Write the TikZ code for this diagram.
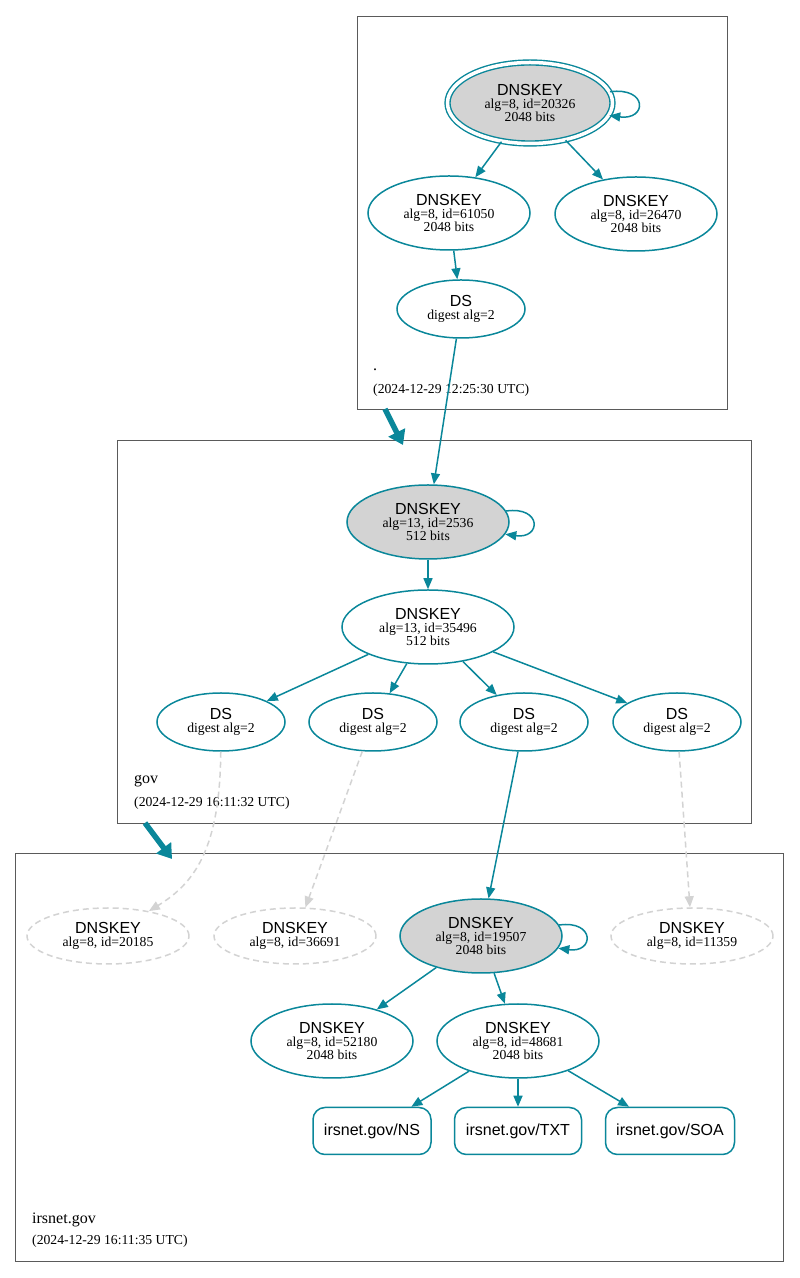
\documentclass[tikz,border=0pt]{standalone}
\usepackage{fontspec}
\setmainfont{Liberation Serif}
\setsansfont{Liberation Sans}
\usetikzlibrary{shapes.geometric,arrows.meta}
\definecolor{dvteal}{HTML}{0A879A}
\definecolor{kgray}{HTML}{D3D3D3}
\definecolor{cgray}{HTML}{5A5A5A}
\newcommand\sfbig[1]{{\sffamily\fontsize{16}{16}\selectfont #1}}
\newcommand\klbl[3]{\sfbig{DNSKEY}\\[0.5pt]alg=#1, id=#2\\#3}
\newcommand\glbl[2]{\sfbig{DNSKEY}\\[0.5pt]alg=#1, id=#2}
\newcommand\dslbl{\sfbig{DS}\\[0.5pt]digest alg=2}
\tikzset{
  kbase/.style={ellipse, draw=dvteal, line width=1.5pt, inner sep=0pt, align=center,
    font=\fontsize{13.7}{13}\selectfont, minimum width=162pt, minimum height=74pt},
  ksep/.style={kbase, fill=kgray},
  dsnode/.style={kbase, minimum width=128pt, minimum height=58pt},
  ghost/.style={kbase, draw=kgray, dash pattern=on 6pt off 4pt, minimum height=56pt},
  rr/.style={rectangle, rounded corners=12pt, draw=dvteal, line width=1.5pt,
    minimum height=47pt, inner sep=0pt, font=\sffamily\fontsize{16}{16}\selectfont},
  arr/.style={draw=dvteal, line width=1.5pt, -{Triangle[length=11pt,width=9pt]}},
  darr/.style={draw=kgray, line width=1.5pt, dash pattern=on 6pt off 4pt, -{Triangle[length=11pt,width=9pt]}},
  bigarr/.style={draw=dvteal, line width=5.5pt, -{Triangle[length=14pt,width=18pt]}},
  clus/.style={rectangle, draw=cgray, line width=0.9pt, inner sep=0pt},
  clbl/.style={anchor=base west, inner sep=0pt, font=\fontsize{16}{16}\selectfont},
  ctime/.style={anchor=base west, inner sep=0pt, font=\fontsize{13.7}{13}\selectfont}
}
\begin{document}
\begin{tikzpicture}[x=1pt,y=1pt]
\useasboundingbox (0,0) rectangle (800,1278);
% clusters
\node[clus, minimum width=370pt, minimum height=393pt] (c1) at (542,1065.5) {};
\node[clus, minimum width=634pt, minimum height=383pt] (c2) at (434,646.5) {};
\node[clus, minimum width=768pt, minimum height=408pt] (c3) at (399,221) {};
\node[clbl] (c1n) at (373,907) {.};
\node[ctime] (c1t) at (373,884) {(2024-12-29 12:25:30 UTC)};
\node[clbl] (c2n) at (134,494) {gov};
\node[ctime] (c2t) at (134,471) {(2024-12-29 16:11:32 UTC)};
\node[clbl] (c3n) at (32,54) {irsnet.gov};
\node[ctime] (c3t) at (32,33) {(2024-12-29 16:11:35 UTC)};
% root zone
\node[ksep, double=white, double distance=3.5pt, line width=1.4pt, minimum width=165pt, minimum height=81pt] (k20326) at (530,1175) {\klbl{8}{20326}{2048 bits}};
\node[kbase] (k61050) at (449,1065) {\klbl{8}{61050}{2048 bits}};
\node[kbase] (k26470) at (636,1064) {\klbl{8}{26470}{2048 bits}};
\node[dsnode] (dsroot) at (461,969) {\dslbl};
% gov zone
\node[ksep] (k2536) at (428,756) {\klbl{13}{2536}{512 bits}};
\node[kbase, minimum width=172pt] (k35496) at (428,651) {\klbl{13}{35496}{512 bits}};
\node[dsnode] (ds1) at (221,556) {\dslbl};
\node[dsnode] (ds2) at (373,556) {\dslbl};
\node[dsnode] (ds3) at (524,556) {\dslbl};
\node[dsnode] (ds4) at (677,556) {\dslbl};
% irsnet.gov zone
\node[ghost] (k20185) at (108,342) {\glbl{8}{20185}};
\node[ghost] (k36691) at (295,342) {\glbl{8}{36691}};
\node[ksep] (k19507) at (481,342) {\klbl{8}{19507}{2048 bits}};
\node[ghost] (k11359) at (692,342) {\glbl{8}{11359}};
\node[kbase] (k52180) at (332,237) {\klbl{8}{52180}{2048 bits}};
\node[kbase] (k48681) at (518,237) {\klbl{8}{48681}{2048 bits}};
\node[rr, minimum width=118pt] (ns) at (372,147) {irsnet.gov/NS};
\node[rr, minimum width=127pt] (txt) at (518,147) {irsnet.gov/TXT};
\node[rr, minimum width=129pt] (soa) at (670,147) {irsnet.gov/SOA};
% edges root
\draw[arr] (k20326.8) .. controls +(38,5) and +(38,-5) .. (k20326.-9);
\draw[arr] (k20326) -- (k61050);
\draw[arr] (k20326) -- (k26470);
\draw[arr] (k61050) -- (dsroot);
\draw[arr] (dsroot) -- (k2536);
% edges gov
\draw[arr] (k2536.8) .. controls +(36,5) and +(36,-5) .. (k2536.-9);
\draw[arr] (k2536) -- (k35496);
\draw[arr] (k35496) -- (ds1);
\draw[arr] (k35496) -- (ds2);
\draw[arr] (k35496) -- (ds3);
\draw[arr] (k35496) -- (ds4);
\draw[darr] (ds1) .. controls (220,430) and (195,395) .. (k20185);
\draw[darr] (ds2) -- (k36691);
\draw[arr] (ds3) -- (k19507);
\draw[darr] (ds4) -- (k11359);
% edges irsnet.gov
\draw[arr] (k19507.8) .. controls +(36,5) and +(36,-5) .. (k19507.-9);
\draw[arr] (k19507) -- (k52180);
\draw[arr] (k19507) -- (k48681);
\draw[arr] (k48681) -- (ns);
\draw[arr] (k48681) -- (txt);
\draw[arr] (k48681) -- (soa);
% inter-zone arrows
\coordinate (a1s) at (385,869);
\coordinate (a1e) at (403,833);
\coordinate (a2s) at (145,455);
\coordinate (a2e) at (172,419);
\draw[bigarr] (a1s) -- (a1e);
\draw[bigarr] (a2s) -- (a2e);
\end{tikzpicture}
\end{document}
